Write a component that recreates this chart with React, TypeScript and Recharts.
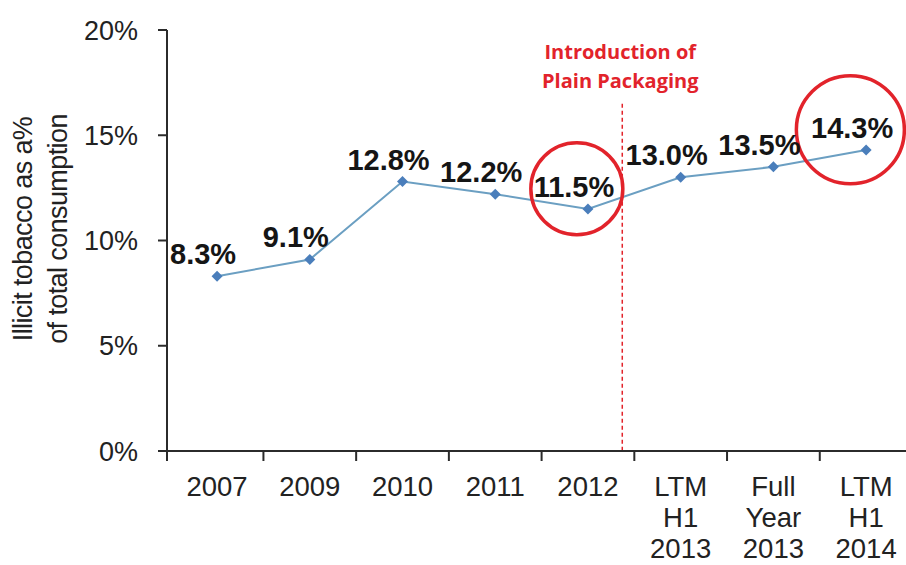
import React from "react";
import {
  LineChart,
  Line,
  XAxis,
  YAxis,
  ReferenceLine,
  ReferenceDot,
  LabelList,
} from "recharts";

const CATEGORIES = [
  "2007",
  "2009",
  "2010",
  "2011",
  "2012",
  "LTM H1 2013",
  "Full Year 2013",
  "LTM H1 2014",
];
const VALUES = [8.3, 9.1, 12.8, 12.2, 11.5, 13.0, 13.5, 14.3];
const Y_TICKS = [0, 5, 10, 15, 20];
const Y_TITLE = ["Illicit tobacco as a%", "of total consumption"];
const ANNOTATION_TEXT = ["Introduction of", "Plain Packaging"];

// annotation positions in data coordinates
const PLAIN_PACK_X = 4.37;
const PLAIN_PACK_TOP = 16.5;
const CIRCLES = [
  { x: 3.88, y: 12.46, r: 46 },
  { x: 6.83, y: 15.26, r: 54 },
];

const X_MIN = -0.54;
const X_MAX = 7.43;

const data = CATEGORIES.map((c, i) => ({ idx: i, name: c, value: VALUES[i] }));
const X_TICKS = [X_MIN, ...CATEGORIES.map((_, i) => i), ...CATEGORIES.slice(0, -1).map((_, i) => i + 0.5)];

const FONT = "'Liberation Sans', Arial, sans-serif";
const AXIS = "#2b2b2b";
const RED = "#e2232b";

const XTick = (props: any) => {
  const { x, y, payload } = props;
  const v = payload.value;
  if (!Number.isInteger(v)) {
    return <line x1={x} x2={x} y1={y} y2={y + 10} stroke={AXIS} strokeWidth={2} />;
  }
  const lines = CATEGORIES[v].split(" ");
  return (
    <text x={x} y={y + 45} textAnchor="middle" fontSize={27.5} fill="#222" fontFamily={FONT}>
      {lines.map((l, k) => (
        <tspan key={k} x={x} dy={k === 0 ? 0 : 31}>
          {l}
        </tspan>
      ))}
    </text>
  );
};

const Diamond = (props: any) => {
  const { cx, cy } = props;
  if (cx == null || cy == null) return null;
  const s = 5.5;
  return (
    <polygon
      points={`${cx},${cy - s} ${cx + s},${cy} ${cx},${cy + s} ${cx - s},${cy}`}
      fill="#4a7ebb"
    />
  );
};

const ValueLabel = (props: any) => {
  const { x, y, value } = props;
  return (
    <text
      x={x - 14}
      y={y - 12}
      textAnchor="middle"
      fontSize={29}
      fontWeight="bold"
      fill="#151515"
      fontFamily={FONT}
    >
      {value.toFixed(1)}%
    </text>
  );
};

const YTitle = (props: any) => {
  const vb = props.viewBox || { x: 0, y: 30, width: 167, height: 421 };
  const cy = 229;
  const xs = [vb.x + 32, vb.x + 67];
  return (
    <g>
      {Y_TITLE.map((t, i) => (
        <text
          key={i}
          x={xs[i]}
          y={cy}
          transform={`rotate(-90 ${xs[i]} ${cy})`}
          textAnchor="middle"
          fontSize={27}
          fill="#222"
          fontFamily={FONT}
          letterSpacing={-0.6}
        >
          {t}
        </text>
      ))}
    </g>
  );
};

const PlainLabel = (props: any) => {
  const vb = props.viewBox || { x: 622, y: 103 };
  const x = vb.x - 2;
  const top = vb.y;
  return (
    <g>
      {ANNOTATION_TEXT.map((t, i) => (
        <text
          key={i}
          x={x}
          y={top - 45 + i * 29}
          textAnchor="middle"
          fontSize={20}
          fontWeight="bold"
          fill={RED}
          fontFamily="'Open Sans', sans-serif"
        >
          {t}
        </text>
      ))}
    </g>
  );
};

export default function App() {
  return (
    <div style={{ position: "absolute", left: 0, top: 0, background: "#fff" }}>
      <LineChart
        width={906}
        height={565}
        data={data}
        margin={{ top: 30, right: 0, bottom: 0, left: 0 }}
      >
        <XAxis
          type="number"
          dataKey="idx"
          domain={[X_MIN, X_MAX]}
          ticks={X_TICKS}
          interval={0}
          allowDataOverflow
          tick={<XTick />}
          tickLine={false}
          tickSize={0}
          tickMargin={0}
          height={114}
          axisLine={{ stroke: AXIS, strokeWidth: 2 }}
        />
        <YAxis
          type="number"
          domain={[0, 20]}
          ticks={Y_TICKS}
          interval={0}
          width={167}
          tickSize={9}
          tickMargin={20}
          tickFormatter={(v: number) => `${v}%`}
          tick={{ fontSize: 27, fill: "#222", fontFamily: FONT }}
          tickLine={{ stroke: AXIS, strokeWidth: 2 }}
          axisLine={{ stroke: AXIS, strokeWidth: 2 }}
          label={{ value: "title", content: (p: any) => <YTitle {...p} /> }}
        />
        <ReferenceLine
          segment={[
            { x: PLAIN_PACK_X, y: PLAIN_PACK_TOP },
            { x: PLAIN_PACK_X, y: 0 },
          ]}
          stroke={RED}
          strokeWidth={1.5}
          strokeDasharray="4 3"
          ifOverflow="visible"
          label={{ value: "pp", content: (p: any) => <PlainLabel {...p} /> }}
        />
        <Line
          type="linear"
          dataKey="value"
          stroke="#6b9fc2"
          strokeWidth={2}
          dot={<Diamond />}
          activeDot={false}
          isAnimationActive={false}
        >
          <LabelList dataKey="value" content={(p: any) => <ValueLabel {...p} />} />
        </Line>
        {CIRCLES.map((c, i) => (
          <ReferenceDot
            key={i}
            x={c.x}
            y={c.y}
            r={c.r}
            fill="none"
            stroke={RED}
            strokeWidth={3.5}
            ifOverflow="visible"
          />
        ))}
      </LineChart>
    </div>
  );
}
